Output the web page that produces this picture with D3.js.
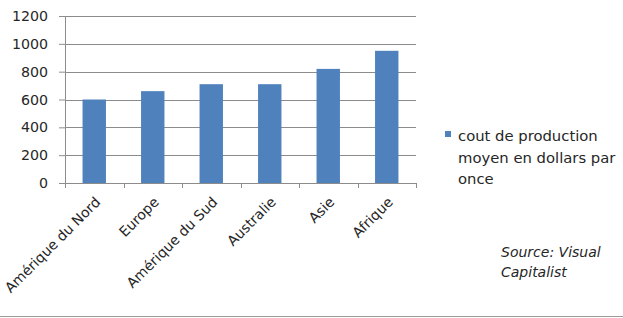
<!DOCTYPE html>
<html>
<head>
<meta charset="utf-8">
<script src="https://cdn.jsdelivr.net/npm/d3@7"></script>
<style>
  body { margin: 0; background: #fff; }
  text { font-family: "DejaVu Sans", sans-serif; fill: #262626; }
</style>
</head>
<body>
<svg width="623" height="318"></svg>
<script>
var regions = ["Amérique du Nord", "Europe", "Amérique du Sud", "Australie", "Asie", "Afrique"];
var costs = [600, 660, 710, 710, 820, 950];
var yTicks = [0, 200, 400, 600, 800, 1000, 1200];
var legendLines = ["cout de production", "moyen en dollars par", "once"];
var sourceLines = ["Source:  Visual", "Capitalist"];

var svg = d3.select("svg");
var margin = {top: 16, right: 207, bottom: 135, left: 65};
var width = +svg.attr("width") - margin.left - margin.right;
var height = +svg.attr("height") - margin.top - margin.bottom;

var g = svg.append("g")
    .attr("transform", "translate(" + margin.left + "," + margin.top + ")");

var x = d3.scaleBand()
    .domain(regions)
    .range([0, width])
    .paddingInner(0.6)
    .paddingOuter(0.3);

var y = d3.scaleLinear()
    .domain([0, 1200])
    .range([height, 0]);

// gridlines
g.append("g")
  .selectAll("line")
  .data(yTicks)
  .enter().append("line")
    .attr("x1", 0)
    .attr("x2", width)
    .attr("y1", function(d) { return Math.round(y(d)) + 0.5; })
    .attr("y2", function(d) { return Math.round(y(d)) + 0.5; })
    .attr("stroke", "#8c8c8c");

// y axis
var yAxis = g.append("g")
    .call(d3.axisLeft(y).tickValues(yTicks).tickSize(6).tickPadding(11).tickFormat(d3.format("d")));
yAxis.selectAll("text").style("font-size", "14.2px").attr("fill", "#262626");
yAxis.selectAll("line, path").attr("stroke", "#8c8c8c");

// bars
g.selectAll(".bar")
  .data(costs)
  .enter().append("rect")
    .attr("class", "bar")
    .attr("x", function(d, i) { return x(regions[i]); })
    .attr("width", x.bandwidth())
    .attr("y", function(d) { return y(d); })
    .attr("height", function(d) { return height - y(d); })
    .attr("fill", "#4f81bd");

// x axis with ticks at band boundaries
var xAxis = g.append("g")
    .attr("transform", "translate(0," + height + ")");
xAxis.append("line")
    .attr("x1", 0).attr("x2", width)
    .attr("y1", 0.5).attr("y2", 0.5)
    .attr("stroke", "#8c8c8c");
xAxis.selectAll(".tick")
  .data(d3.range(regions.length + 1))
  .enter().append("line")
    .attr("x1", function(i) { return Math.round(i * x.step()) + 0.5; })
    .attr("x2", function(i) { return Math.round(i * x.step()) + 0.5; })
    .attr("y1", 0).attr("y2", 5)
    .attr("stroke", "#8c8c8c");

xAxis.selectAll(".label")
  .data(regions)
  .enter().append("text")
    .attr("transform", function(d) {
      return "translate(" + (x(d) + x.bandwidth() / 2 + 7) + ",20) rotate(-45)";
    })
    .attr("text-anchor", "end")
    .style("font-size", "14px")
    .text(function(d) { return d; });

// legend
var legend = svg.append("g").attr("transform", "translate(445,131)");
legend.append("rect")
    .attr("width", 6).attr("height", 6)
    .attr("fill", "#4f81bd");
legend.selectAll("text")
  .data(legendLines)
  .enter().append("text")
    .attr("x", 13)
    .attr("y", function(d, i) { return 10 + i * 21.5; })
    .style("font-size", "14.8px")
    .text(function(d) { return d; });

// source note
svg.append("g").attr("transform", "translate(501,257)")
  .selectAll("text")
  .data(sourceLines)
  .enter().append("text")
    .attr("y", function(d, i) { return i * 20; })
    .style("font-size", "14px")
    .style("font-style", "italic")
    .text(function(d) { return d; });

// bottom border
svg.append("line")
    .attr("x1", 0).attr("x2", 623)
    .attr("y1", 316.5).attr("y2", 316.5)
    .attr("stroke", "#9a9a9a");
</script>
</body>
</html>
